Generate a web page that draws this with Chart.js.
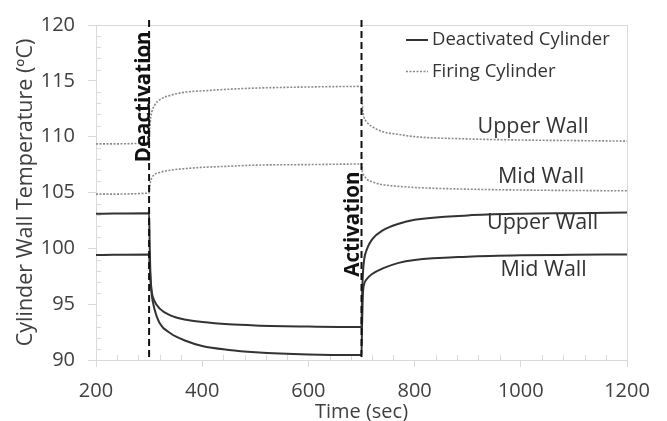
<!DOCTYPE html>
<html>
<head>
<meta charset="utf-8">
<script src="https://cdn.jsdelivr.net/npm/chart.js@4.4.0/dist/chart.umd.min.js"></script>
<style>
  html, body { margin: 0; padding: 0; background: #fff; }
  #wrap { width: 667px; height: 421px; }
</style>
</head>
<body>
<div id="wrap"><canvas id="chart"></canvas></div>
<script>
// time (sec)
const times = [200, 300, 301, 302, 303, 305, 310, 320, 340, 370, 400, 450, 500, 600, 700,
  701, 702, 703, 705, 710, 720, 740, 770, 800, 900, 1000, 1100, 1200];

// wall temperatures (degC)
const deactUpper = [103.1, 103.15, 100.5, 98.5, 97.2, 96.1, 95.3, 94.6, 94.0, 93.6, 93.4, 93.2, 93.1, 93.0, 92.95,
  95.5, 97.0, 98.0, 99.0, 99.9, 100.8, 101.6, 102.2, 102.55, 102.95, 103.1, 103.15, 103.2];
const deactMid = [99.4, 99.45, 98.5, 97.6, 96.9, 95.8, 94.6, 93.3, 92.4, 91.7, 91.25, 90.9, 90.7, 90.5, 90.45,
  93.0, 95.0, 96.2, 96.8, 97.25, 97.7, 98.2, 98.7, 98.95, 99.25, 99.38, 99.42, 99.45];
const firingUpper = [109.35, 109.45, 110.5, 111.2, 111.7, 112.2, 112.8, 113.3, 113.7, 114.0, 114.1, 114.25, 114.35, 114.45, 114.5,
  113.2, 112.5, 112.1, 111.7, 111.3, 110.9, 110.45, 110.2, 110.0, 109.8, 109.7, 109.65, 109.6];
const firingMid = [104.85, 104.95, 105.5, 105.8, 106.0, 106.3, 106.6, 106.8, 107.0, 107.15, 107.25, 107.35, 107.45, 107.5, 107.55,
  107.0, 106.8, 106.65, 106.5, 106.2, 105.95, 105.7, 105.55, 105.45, 105.3, 105.22, 105.18, 105.15];

const eventTimes = [300, 700];
const eventLabels = ["Deactivation", "Activation"];
const legendLabels = ["Deactivated Cylinder", "Firing Cylinder"];

const FONT = "'Open Sans', sans-serif";
const TXT = "#404040";
const AXIS = "#d9d9d9";

const solid = { borderColor: "#333333", borderWidth: 2, borderDash: [] };
const dotted = { borderColor: "#8a8a8a", borderWidth: 1.6, borderDash: [2, 1.5] };

function pts(vals) {
  return times.map((t, i) => ({ x: t, y: vals[i] }));
}

const datasets = [
  { label: "Deactivated Upper Wall", data: pts(deactUpper), ...solid },
  { label: "Deactivated Mid Wall", data: pts(deactMid), ...solid },
  { label: "Firing Upper Wall", data: pts(firingUpper), ...dotted },
  { label: "Firing Mid Wall", data: pts(firingMid), ...dotted },
];

// minor ticks, plot frame, event lines, labels and legend
const decor = {
  id: "decor",
  beforeDatasetsDraw(chart) {
    const { ctx, chartArea: a, scales: { x, y } } = chart;
    ctx.save();
    ctx.strokeStyle = AXIS;
    ctx.lineWidth = 1;
    ctx.beginPath();
    ctx.moveTo(a.left, a.top + 0.5);
    ctx.lineTo(a.right + 0.5, a.top + 0.5);
    ctx.lineTo(a.right + 0.5, a.bottom);
    for (let v = 90; v <= 120; v += 1) {
      if (v % 5 === 0) continue;
      const py = Math.round(y.getPixelForValue(v)) + 0.5;
      ctx.moveTo(a.left, py);
      ctx.lineTo(a.left + 5, py);
    }
    for (let t = 200; t <= 1200; t += 40) {
      if (t % 200 === 0) continue;
      const px = Math.round(x.getPixelForValue(t)) + 0.5;
      ctx.moveTo(px, a.bottom);
      ctx.lineTo(px, a.bottom - 5);
    }
    ctx.stroke();
    ctx.restore();
  },
  afterDatasetsDraw(chart) {
    const { ctx, chartArea: a, scales: { x, y } } = chart;
    ctx.save();
    // event lines
    ctx.strokeStyle = "#111";
    ctx.lineWidth = 2;
    ctx.setLineDash([7, 4]);
    eventTimes.forEach(t => {
      const px = x.getPixelForValue(t);
      ctx.beginPath();
      ctx.moveTo(px, a.top - 5);
      ctx.lineTo(px, a.bottom);
      ctx.stroke();
    });
    ctx.setLineDash([]);

    // rotated event labels
    const evPos = [[290, 113.57], [685, 102.17]];
    ctx.fillStyle = "#111";
    ctx.font = "bold 20.5px " + FONT;
    ctx.textAlign = "center";
    ctx.textBaseline = "middle";
    eventLabels.forEach((s, i) => {
      ctx.save();
      ctx.translate(x.getPixelForValue(evPos[i][0]), y.getPixelForValue(evPos[i][1]));
      ctx.rotate(-Math.PI / 2);
      ctx.fillText(s, 0, 0);
      ctx.restore();
    });

    // wall labels
    ctx.fillStyle = "#333";
    ctx.font = "21.5px " + FONT;
    [["Upper Wall", 1023, 110.86], ["Mid Wall", 1038, 106.42],
     ["Upper Wall", 1041, 102.25], ["Mid Wall", 1043, 98.08]].forEach(([s, t, v]) => {
      ctx.fillText(s, x.getPixelForValue(t), y.getPixelForValue(v));
    });

    // legend
    ctx.font = "18.5px " + FONT;
    ctx.textAlign = "left";
    const legendStyles = [solid, dotted];
    legendLabels.forEach((s, i) => {
      const ly = a.top + 15 + i * 31.5;
      const st = legendStyles[i];
      ctx.strokeStyle = st.borderColor;
      ctx.lineWidth = st.borderWidth;
      ctx.setLineDash(st.borderDash);
      ctx.beginPath();
      ctx.moveTo(a.left + 310, ly);
      ctx.lineTo(a.left + 332, ly);
      ctx.stroke();
      ctx.setLineDash([]);
      ctx.fillStyle = "#333";
      ctx.fillText(s, a.left + 336, ly);
    });
    ctx.restore();
  }
};

new Chart(document.getElementById("chart"), {
  type: "line",
  data: { datasets },
  plugins: [decor],
  options: {
    responsive: true,
    maintainAspectRatio: false,
    animation: false,
    layout: { padding: { top: 20, right: 40, left: 0, bottom: 0 } },
    elements: {
      point: { radius: 0 },
      line: { cubicInterpolationMode: "monotone", fill: false }
    },
    plugins: { legend: { display: false }, tooltip: { enabled: false } },
    scales: {
      x: {
        type: "linear",
        min: 200, max: 1200,
        ticks: { stepSize: 200, color: TXT, font: { family: FONT, size: 20 }, padding: 12, maxRotation: 0, callback: v => String(v) },
        grid: { drawOnChartArea: false, tickLength: 7, color: AXIS },
        border: { color: AXIS },
        title: { display: true, text: "Time (sec)", color: TXT, font: { family: FONT, size: 20, lineHeight: 0.9 }, padding: 0 },
        afterFit: s => { s.height = 61; }
      },
      y: {
        min: 90, max: 120,
        ticks: { stepSize: 5, color: TXT, font: { family: FONT, size: 20 }, padding: 13 },
        grid: { drawOnChartArea: false, tickLength: 8, color: AXIS },
        border: { color: AXIS },
        title: { display: true, text: "Cylinder Wall Temperature (ºC)", color: TXT, font: { family: FONT, size: 21.5, lineHeight: 1.2 }, padding: { top: 13 } },
        afterFit: s => { s.width = 96; }
      }
    }
  }
});
</script>
</body>
</html>
